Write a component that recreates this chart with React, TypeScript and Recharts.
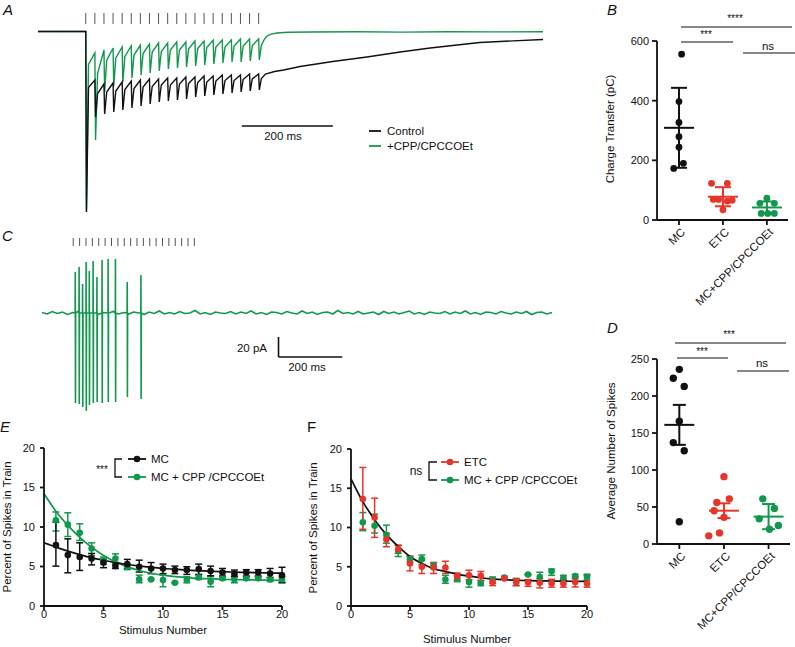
import React from 'react';
import { ComposedChart, Line, Scatter, XAxis, YAxis, ErrorBar, ReferenceLine } from 'recharts';

const FONT = '"Liberation Sans", Arial, Helvetica, sans-serif';
const INK = '#111111';
const GREEN = '#12984c';
const RED = '#e8352b';

// ---------- A: evoked currents, time in ms, current in arbitrary pA ----------
const stimA = [105, 125, 145, 165, 185, 205, 225, 245, 265, 285, 305, 325, 345, 365, 385, 405, 425, 445, 465, 485];
const ctrlPeakA = [0, -485, -525, -515, -505, -495, -485, -475, -475, -465, -465, -455, -455, -445, -445, -435, -435, -435, -425, -425];
const ctrlTroughA = [-1805, -855, -825, -805, -785, -765, -745, -725, -705, -695, -685, -675, -655, -645, -635, -625, -615, -605, -595, -585];
const ctrlMidA = [-560, -620, -605, -595, -580, -570, -555, -550, -535, -535, -525, -520, -510, -505, -495, -490, -490, -480, -475, -470];
const ctrlTailA = [[500, -425], [520, -400], [540, -385], [576, -350], [648, -300], [723, -255], [796, -205], [862, -165], [971, -110], [1110, -80]];
const cppPeakA = [0, -215, -185, -165, -155, -145, -135, -125, -115, -115, -105, -105, -95, -95, -85, -85, -85, -75, -75, -75];
const cppTroughA = [-1790, -1085, -605, -545, -505, -465, -435, -415, -395, -375, -365, -355, -345, -335, -325, -315, -305, -305, -295, -285];
const cppMidA = [-330, -420, -290, -265, -250, -235, -220, -205, -200, -185, -185, -175, -170, -160, -155, -155, -145, -145, -140, -140];
const cppTailA = [[496, -90], [502, -50], [510, -28], [525, -15], [550, -8], [600, -5], [700, -3], [800, -6], [900, -2], [1000, -4], [1110, -3]];

// ---------- C: cell-attached spikes ----------
const stimC = [98, 118, 138, 158, 178, 198, 218, 238, 258, 278, 298, 318, 338, 358, 378, 398, 418, 438, 458, 478];
const spikeTimesC = [104, 116, 127, 138, 148, 160, 172, 188, 207, 230, 267, 310];
const spikeTopC = [41, 46, 29, 51, 42, 52, 36, 53, 54, 54, 31, 38];
const spikeBottomC = [-90, -91, -94, -98, -92, -90, -89, -90, -89, -89, -84, -86];
const noiseC = [
  0.5, -1, 1.5, -0.5, 1, -1.5, 0.5, 1.5, -1, 0, 1, -1.5, 0.5, -0.5, 1.5, -1, 0.5, -1, 1, 0,
  -1.5, 1, -0.5, 2, -1, 0.5, -1, 1.5, -0.5, 0, 2.5, -1, 0.5, -1.5, 1, 0, -0.5, 1.5, -1, 1,
  -0.5, 2, -1, 0.5, -1.5, 1, 0.5, -1, 1.5, 0, -1, 2, -0.5, 1, -1.5, 0.5, 1, -1, 2.5, -0.5,
  0.5, -1, 1.5, -1, 0, 1, -1.5, 1.5, -0.5, 1, -1, 0.5, 2, -1, 0.5, -1.5, 1, 0, -0.5, 1.5,
  -1, 1, -0.5, 2, -1, 0.5, -1.5, 1, 0.5, -1, 1.5, 0, -1, 1, -0.5, 1.5, -1.5, 0.5, 1, -1, 0.5,
];

// ---------- B: charge transfer (pC) ----------
const CATS = ['MC', 'ETC', 'MC+CPP/CPCCOEt'];
const chargeMC = [556, 397, 327, 279, 244, 190, 173];
const chargeMCOff = [0.06, 0, 0, 0, 0, 0.1, -0.12];
const chargeETC = [123, 123, 69, 69, 63, 66, 34];
const chargeETCOff = [-0.26, 0.1, -0.22, -0.1, 0.1, 0.21, 0];
const chargeCPP = [73, 56, 56, 22, 22, 22];
const chargeCPPOff = [0, -0.16, 0.17, -0.13, 0.02, 0.17];
const chargeMean = [309, 78, 42];
const chargeSD = [134, 32, 20];

// ---------- D: spike counts ----------
const spikesMC = [236, 224, 213, 166, 137, 126, 30];
const spikesMCOff = [0, -0.135, 0.11, 0, -0.135, 0.11, 0];
const spikesETC = [91, 61, 56, 45, 36, 11, 15];
const spikesETCOff = [0, 0.12, -0.16, -0.22, 0, -0.34, -0.1];
const spikesCPP = [61, 48, 34, 25, 20];
const spikesCPPOff = [-0.13, 0.13, -0.21, 0.22, 0.02];
const spikesMean = [161, 45, 37];
const spikesSEM = [27, 10, 17];

// ---------- E / F: percent of spikes per stimulus ----------
const mcE = [7.7, 6.44, 6.2, 6.0, 5.5, 5.05, 5.3, 4.97, 4.75, 4.75, 4.55, 4.55, 4.67, 4.42, 4.25, 4.04, 4.25, 4.25, 4.12, 3.9];
const mcETop = [10.6, 8.5, 8.0, 6.65, 5.9, 5.5, 5.9, 5.8, 5.5, 5.3, 5.05, 4.97, 5.3, 5.05, 4.75, 4.55, 4.6, 4.6, 4.75, 4.9];
const mcEBot = [5.05, 4.2, 4.5, 5.2, 4.85, 4.75, 4.75, 4.3, 4.1, 4.1, 4.1, 4.0, 4.0, 3.83, 3.8, 3.7, 3.8, 3.8, 3.6, 3.0];
const cppE = [10.86, 10.3, 9.26, 7.28, 5.8, 6.0, 4.96, 3.37, 3.37, 3.28, 2.94, 3.28, 3.62, 3.07, 3.5, 3.37, 3.5, 3.5, 3.37, 3.4];
const cppETop = [11.9, 11.8, 10.4, 8.0, 6.2, 6.6, 5.3, 3.9, 3.37, 3.9, 2.94, 3.7, 3.9, 3.7, 3.7, 3.8, 3.7, 3.7, 3.6, 3.7];
const cppEBot = [9.5, 8.8, 8.3, 6.4, 5.26, 5.3, 4.6, 2.94, 3.37, 2.44, 2.94, 2.94, 3.37, 2.44, 3.3, 2.94, 3.3, 3.3, 3.1, 2.9];
const mcFitE = [8.0, 7.45, 6.95, 6.5, 6.1, 5.8, 5.5, 5.25, 5.05, 4.9, 4.75, 4.65, 4.55, 4.47, 4.4, 4.34, 4.29, 4.25, 4.21, 4.18, 4.15];
const cppFitE = [14.2, 12.0, 10.2, 8.7, 7.45, 6.4, 5.6, 4.95, 4.5, 4.15, 3.9, 3.72, 3.6, 3.5, 3.43, 3.38, 3.34, 3.31, 3.29, 3.27, 3.25];

const etcF = [13.64, 11.26, 8.49, 7.25, 5.42, 4.99, 4.9, 4.86, 3.8, 3.92, 3.85, 3.07, 3.5, 3.07, 3.0, 2.97, 2.9, 2.86, 3.07, 2.86];
const etcFTop = [17.65, 13.73, 9.26, 7.76, 6.36, 5.84, 5.55, 5.7, 4.2, 4.56, 4.4, 3.5, 3.6, 3.5, 3.37, 3.5, 3.4, 3.4, 3.7, 3.9];
const etcFBot = [9.77, 8.74, 7.55, 6.7, 4.48, 4.14, 4.14, 4.14, 3.28, 3.37, 3.28, 2.6, 3.4, 2.6, 2.5, 2.3, 2.4, 2.4, 2.43, 2.4];
const cppF = [10.66, 10.23, 9.04, 7.0, 5.97, 5.97, 5.2, 3.37, 3.5, 3.07, 2.9, 3.3, 3.63, 3.07, 4.0, 3.7, 4.43, 3.6, 3.8, 3.7];
const cppFTop = [11.9, 11.7, 10.3, 7.7, 6.3, 6.5, 5.5, 3.9, 3.9, 3.9, 3.2, 3.7, 3.8, 3.5, 4.0, 4.3, 4.7, 3.9, 4.0, 4.05];
const cppFBot = [9.6, 9.3, 8.0, 6.3, 5.6, 5.3, 4.8, 2.9, 3.1, 2.4, 2.6, 2.9, 3.45, 2.6, 4.0, 3.07, 3.9, 3.3, 3.5, 3.3];
const fitF = [16.2, 13.3, 11.0, 9.1, 7.6, 6.3, 5.4, 4.75, 4.4, 4.05, 3.8, 3.6, 3.45, 3.35, 3.28, 3.23, 3.2, 3.18, 3.16, 3.15, 3.14];

// ---------- table builders ----------
function buildTrain(peaks: number[], troughs: number[], mids: number[], tail: number[][]) {
  const pts = [{ t: 0, v: 0 }];
  stimA.forEach((s, k) => {
    pts.push({ t: s, v: peaks[k] });
    pts.push({ t: s + 1.5, v: troughs[k] });
    pts.push({ t: s + 6, v: mids[k] });
  });
  tail.forEach(([t, v]) => pts.push({ t, v }));
  return pts;
}
const ctrlTrace = buildTrain(ctrlPeakA, ctrlTroughA, ctrlMidA, ctrlTailA);
const cppTrace = buildTrain(cppPeakA, cppTroughA, cppMidA, cppTailA);
const stimRowsA = stimA.map((t) => ({ t, v: 130 }));

const traceC = [
  ...noiseC
    .map((v, i) => ({ t: i * 16, v }))
    .filter((p) => !spikeTimesC.some((s) => p.t > s - 2 && p.t < s + 4)),
  ...spikeTimesC.flatMap((s, i) => [
    { t: s, v: 0 },
    { t: s + 0.4, v: spikeTopC[i] },
    { t: s + 1, v: spikeBottomC[i] },
    { t: s + 1.6, v: 0 },
  ]),
].sort((a, b) => a.t - b.t);
const stimRowsC = stimC.map((t) => ({ t, v: 71 }));

const dots = (vals: number[], offs: number[], cat: number) => vals.map((y, i) => ({ x: cat + offs[i], y }));
const means = (m: number[], e: number[]) => m.map((y, i) => ({ x: i + 1, y, err: e[i] }));
const pts = (m: number[], top: number[], bot: number[]) =>
  m.map((y, i) => ({ x: i + 1, y, err: [y - bot[i], top[i] - y] }));
const fit = (arr: number[]) => arr.map((y, i) => ({ x: i, y }));

// ---------- shapes ----------
const tickMark = (half: number) => (p: any) => (
  <line x1={p.cx} x2={p.cx} y1={p.cy - half} y2={p.cy + half} stroke="#555" strokeWidth={1} />
);
const dot = (color: string, r: number) => (p: any) => <circle cx={p.cx} cy={p.cy} r={r} fill={color} />;
const meanBar = (color: string, half: number) => (p: any) => (
  <line x1={p.cx - half} x2={p.cx + half} y1={p.cy} y2={p.cy} stroke={color} strokeWidth={2} />
);

const axisStyle = { stroke: INK, strokeWidth: 1.8 };
const tickText = { fontSize: 11, fill: INK, fontFamily: FONT };

const CatTick = (props: any) => {
  const { x, y, payload } = props;
  const label = CATS[Math.round(payload.value) - 1];
  const px = x + 4;
  const py = y + 3;
  return (
    <text x={px} y={py} dy="0.35em" transform={`rotate(-45 ${px} ${py})`} textAnchor="end" fontSize={11.5} fill={INK} fontFamily={FONT}>
      {label}
    </text>
  );
};

function GroupChart(props: {
  top: number; height: number; marginTop: number; plotHeight: number; right: number; domainMax: number; ticks: number[];
  groups: { data: { x: number; y: number }[]; color: string }[];
  meanData: { x: number; y: number; err: number }[]; r: number; cap: number;
}) {
  const colors = [INK, RED, GREEN];
  return (
    <div style={{ position: 'absolute', left: 600, top: props.top }}>
      <ComposedChart width={195} height={props.height} margin={{ top: props.marginTop, right: props.right, bottom: 0, left: 0 }}>
        <XAxis type="number" dataKey="x" domain={[0.5, 3.48]} ticks={[1, 2, 3]} height={props.height - props.marginTop - props.plotHeight}
          axisLine={axisStyle} tickLine={axisStyle} tickSize={5} tick={<CatTick />} interval={0} />
        <YAxis type="number" domain={[0, props.domainMax]} ticks={props.ticks} width={57} axisLine={axisStyle}
          tickLine={axisStyle} tickSize={5} tickMargin={3} tick={tickText} interval={0} />
        {props.groups.map((g, i) => (
          <Scatter key={i} data={g.data} dataKey="y" shape={dot(g.color, props.r)} isAnimationActive={false} />
        ))}
        {props.meanData.map((m, i) => (
          <Scatter key={'m' + i} data={[m]} dataKey="y" shape={meanBar(colors[i], 15)} isAnimationActive={false}>
            <ErrorBar dataKey="err" direction="y" width={props.cap} stroke={colors[i]} strokeWidth={2} />
          </Scatter>
        ))}
      </ComposedChart>
    </div>
  );
}

function PercentChart(props: {
  left: number; width: number; yWidth: number; marginTop: number; marginRight: number;
  series: { data: any[]; color: string }[]; fits: { data: any[]; color: string }[];
}) {
  return (
    <div style={{ position: 'absolute', left: props.left, top: 437 }}>
      <ComposedChart width={props.width} height={210} margin={{ top: props.marginTop, right: props.marginRight, bottom: 0, left: 0 }}>
        <XAxis type="number" dataKey="x" domain={[0, 20]} ticks={[0, 5, 10, 15, 20]} height={41} axisLine={axisStyle}
          tickLine={axisStyle} tickSize={4} tickMargin={0} tick={tickText} interval={0} />
        <YAxis type="number" domain={[0, 20]} ticks={[0, 5, 10, 15, 20]} width={props.yWidth} axisLine={axisStyle}
          tickLine={axisStyle} tickSize={4} tickMargin={5} tick={tickText} interval={0} />
        {props.series.map((s, i) => (
          <Scatter key={i} data={s.data} dataKey="y" shape={dot(s.color, 3.3)} isAnimationActive={false}>
            <ErrorBar dataKey="err" direction="y" width={3.5} stroke={s.color} strokeWidth={1.5} />
          </Scatter>
        ))}
        {props.fits.map((f, i) => (
          <Line key={'f' + i} data={f.data} dataKey="y" type="monotone" stroke={f.color} strokeWidth={1.7} dot={false} isAnimationActive={false} />
        ))}
      </ComposedChart>
    </div>
  );
}

const T = (p: any) => <text fontFamily={FONT} fill={INK} fontSize={11.5} {...p} />;

function LegendItem({ x, y, color, label }: { x: number; y: number; color: string; label: string }) {
  return (
    <g>
      <line x1={x} x2={x + 18} y1={y} y2={y} stroke={color} strokeWidth={1.8} />
      <circle cx={x + 9} cy={y} r={3.3} fill={color} />
      <T x={x + 23} y={y + 4}>{label}</T>
    </g>
  );
}

export default function App() {
  return (
    <div style={{ position: 'absolute', left: 0, top: 0, width: 795, height: 647, background: '#fff', fontFamily: FONT }}>
      {/* A */}
      <div style={{ position: 'absolute', left: 0, top: 0 }}>
        <ComposedChart width={560} height={230} margin={{ top: 10, right: 17, bottom: 15, left: 38 }}>
          <XAxis type="number" dataKey="t" domain={[0, 1110]} hide />
          <YAxis type="number" domain={[-1835, 215]} hide />
          <Line data={cppTrace} dataKey="v" type="linear" stroke={GREEN} strokeWidth={1.4} dot={false} isAnimationActive={false} />
          <Line data={ctrlTrace} dataKey="v" type="linear" stroke={INK} strokeWidth={1.4} dot={false} isAnimationActive={false} />
          <Scatter data={stimRowsA} dataKey="v" shape={tickMark(5.5)} isAnimationActive={false} />
          <ReferenceLine segment={[{ x: 448, y: -945 }, { x: 648, y: -945 }]} stroke={INK} strokeWidth={1.6} ifOverflow="visible" />
        </ComposedChart>
      </div>

      {/* C */}
      <div style={{ position: 'absolute', left: 0, top: 225 }}>
        <ComposedChart width={560} height={200} margin={{ top: 10, right: 8, bottom: 10, left: 42 }}>
          <XAxis type="number" dataKey="t" domain={[0, 1600]} hide />
          <YAxis type="number" domain={[-102, 78]} hide />
          <Line data={traceC} dataKey="v" type="linear" stroke={GREEN} strokeWidth={1.6} dot={false} isAnimationActive={false} />
          <Scatter data={stimRowsC} dataKey="v" shape={tickMark(4)} isAnimationActive={false} />
          <ReferenceLine segment={[{ x: 742, y: -24 }, { x: 742, y: -44 }]} stroke={INK} strokeWidth={1.6} ifOverflow="visible" />
          <ReferenceLine segment={[{ x: 742, y: -44 }, { x: 942, y: -44 }]} stroke={INK} strokeWidth={1.6} ifOverflow="visible" />
        </ComposedChart>
      </div>

      {/* D */}
      <GroupChart top={300} height={347} marginTop={59} plotHeight={185} right={5} domainMax={250} ticks={[0, 50, 100, 150, 200, 250]} r={3.7} cap={6.5}
        groups={[
          { data: dots(spikesMC, spikesMCOff, 1), color: INK },
          { data: dots(spikesETC, spikesETCOff, 2), color: RED },
          { data: dots(spikesCPP, spikesCPPOff, 3), color: GREEN },
        ]}
        meanData={means(spikesMean, spikesSEM)} />

      {/* B */}
      <GroupChart top={0} height={330} marginTop={41} plotHeight={179} right={7} domainMax={600} ticks={[0, 200, 400, 600]} r={3.4} cap={8}
        groups={[
          { data: dots(chargeMC, chargeMCOff, 1), color: INK },
          { data: dots(chargeETC, chargeETCOff, 2), color: RED },
          { data: dots(chargeCPP, chargeCPPOff, 3), color: GREEN },
        ]}
        meanData={means(chargeMean, chargeSD)} />

      {/* E */}
      <PercentChart left={0} width={290} yWidth={44} marginTop={11} marginRight={8}
        series={[{ data: pts(cppE, cppETop, cppEBot), color: GREEN }, { data: pts(mcE, mcETop, mcEBot), color: INK }]}
        fits={[{ data: fit(cppFitE), color: GREEN }, { data: fit(mcFitE), color: INK }]} />

      {/* F */}
      <PercentChart left={300} width={295} yWidth={51} marginTop={12} marginRight={8}
        series={[{ data: pts(cppF, cppFTop, cppFBot), color: GREEN }, { data: pts(etcF, etcFTop, etcFBot), color: RED }]}
        fits={[{ data: fit(fitF), color: INK }]} />

      {/* labels and annotations */}
      <svg width={795} height={647} style={{ position: 'absolute', left: 0, top: 0, pointerEvents: 'none' }}>
        <T x={3} y={15} fontSize={15} fontStyle="italic">A</T>
        <T x={607} y={15} fontSize={15} fontStyle="italic">B</T>
        <T x={2} y={241} fontSize={15} fontStyle="italic">C</T>
        <T x={607} y={333} fontSize={15} fontStyle="italic">D</T>
        <T x={0} y={432} fontSize={15} fontStyle="italic">E</T>
        <T x={307} y={432} fontSize={15}>F</T>

        {/* A texts */}
        <T x={283} y={140} textAnchor="middle">200 ms</T>
        <line x1={369} x2={381} y1={131} y2={131} stroke={INK} strokeWidth={1.8} />
        <T x={387} y={135}>Control</T>
        <line x1={369} x2={381} y1={146} y2={146} stroke={GREEN} strokeWidth={1.8} />
        <T x={387} y={150}>+CPP/CPCCOEt</T>

        {/* C texts */}
        <T x={267} y={352} textAnchor="end">20 pA</T>
        <T x={307} y={370.5} textAnchor="middle">200 ms</T>

        {/* B */}
        <T transform="translate(614,129) rotate(-90)" textAnchor="middle">Charge Transfer (pC)</T>
        <line x1={681} x2={792} y1={27} y2={27} stroke={INK} strokeWidth={1.2} />
        <T x={735} y={22} fontSize={10} textAnchor="middle">****</T>
        <line x1={681} x2={733} y1={42} y2={42} stroke={INK} strokeWidth={1.2} />
        <T x={706} y={38} fontSize={10} textAnchor="middle">***</T>
        <line x1={743} x2={795} y1={53} y2={53} stroke={INK} strokeWidth={1.2} />
        <T x={768} y={50} textAnchor="middle">ns</T>

        {/* D */}
        <T transform="translate(614.5,451) rotate(-90)" textAnchor="middle">Average Number of Spikes</T>
        <line x1={675} x2={786} y1={343} y2={343} stroke={INK} strokeWidth={1.2} />
        <T x={729} y={338} fontSize={10} textAnchor="middle">***</T>
        <line x1={677} x2={728} y1={358} y2={358} stroke={INK} strokeWidth={1.2} />
        <T x={702} y={355} fontSize={10} textAnchor="middle">***</T>
        <line x1={737} x2={789} y1={371} y2={371} stroke={INK} strokeWidth={1.2} />
        <T x={762} y={367} textAnchor="middle">ns</T>

        {/* E */}
        <T transform="translate(11,527) rotate(-90)" textAnchor="middle">Percent of Spikes in Train</T>
        <T x={163} y={634} textAnchor="middle">Stimulus Number</T>
        <T x={102} y={473} fontSize={10} textAnchor="middle">***</T>
        <path d="M122 459 H115 V477 H122" fill="none" stroke={INK} strokeWidth={1.3} />
        <LegendItem x={128} y={459} color={INK} label="MC" />
        <LegendItem x={128} y={477} color={GREEN} label="MC + CPP /CPCCOEt" />

        {/* F */}
        <T transform="translate(316.5,528) rotate(-90)" textAnchor="middle">Percent of Spikes in Train</T>
        <T x={467} y={643} textAnchor="middle">Stimulus Number</T>
        <T x={416} y={475} fontSize={12} textAnchor="middle">ns</T>
        <path d="M437 462 H429 V480 H437" fill="none" stroke={INK} strokeWidth={1.3} />
        <LegendItem x={441} y={462} color={RED} label="ETC" />
        <LegendItem x={441} y={480} color={GREEN} label="MC + CPP /CPCCOEt" />
      </svg>
    </div>
  );
}
